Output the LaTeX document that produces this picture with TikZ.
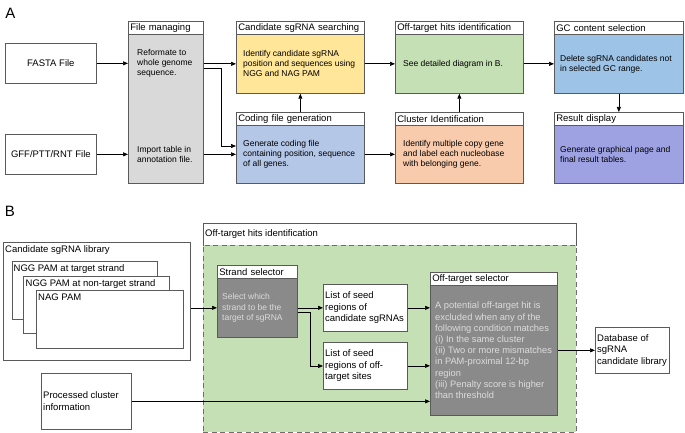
\documentclass[tikz,border=0pt]{standalone}
\usepackage{fontspec}
\setmainfont{Liberation Sans}
\usetikzlibrary{arrows.meta}
\definecolor{bc}{HTML}{5A5A5A}
\definecolor{dashc}{HTML}{6E6E6E}
\definecolor{cyel}{HTML}{FFE699}
\definecolor{cgreen}{HTML}{C5E0B4}
\definecolor{ccode}{HTML}{B4C7E7}
\definecolor{corange}{HTML}{F8CBAD}
\definecolor{cgc}{HTML}{9DC3E6}
\definecolor{cres}{HTML}{9EA2E2}
\definecolor{cfm}{HTML}{D9D9D9}
\definecolor{cdark}{HTML}{8A8A8A}
\definecolor{clight}{HTML}{DCDCDC}
\newcommand{\fTitle}{\fontsize{9.5}{11}\selectfont}
\newcommand{\fBody}{\fontsize{8.5}{10}\selectfont}
\newcommand{\fBB}{\fontsize{9.5}{11.5}\selectfont}
\newcommand{\fSel}{\fontsize{9.3}{11.2}\selectfont}
\newcommand{\fStr}{\fontsize{8.5}{10.5}\selectfont}
\newcommand{\fBig}{\fontsize{15}{15}\selectfont}
\begin{document}
\begin{tikzpicture}[x=1pt,y=-1pt,
  box/.style={draw=bc, line width=0.7pt, anchor=north west, inner sep=0pt},
  ttl/.style={box, fill=white, minimum height=13pt, inner xsep=2pt, inner ysep=0pt, align=left, font=\fTitle},
  arr/.style={line width=0.7pt, -{Triangle[length=5pt,width=4pt]}},
  ln/.style={line width=0.7pt},
  txt/.style={anchor=west, align=left, inner sep=0pt},
  dashbox/.style={draw=dashc, line width=0.7pt, dash pattern=on 5pt off 3.5pt, anchor=north west, inner sep=0pt}
]
\useasboundingbox (0,0) rectangle (685,433);

% ---------------- Panel A ----------------
\node[font=\fBig, inner sep=0pt] (labA) at (10.5,13.5) {A};

\node[box, fill=white, minimum width=91pt, minimum height=40pt, font=\fTitle] (fasta) at (5,43) {};
\node[font=\fTitle, inner sep=0pt] (fastax) at (fasta.center) {FASTA File};
\node[box, fill=white, minimum width=91pt, minimum height=40pt] (gff) at (5,134) {};
\node[font=\fTitle, inner sep=0pt] (gffx) at (gff.center) {GFF/PTT/RNT File};

% File managing
\node[ttl, text width=71pt] (fmt) at (128,21) {File managing};
\node[box, fill=cfm, minimum width=75pt, minimum height=149pt] (fmb) at (128,34) {};
\coordinate (fmy1) at (128,63);
\coordinate (fmy2) at (128,154);
\node[txt, font=\fBody] (fmx1) at ([xshift=9pt]fmy1) {Reformate to\\whole genome\\sequence.};
\node[txt, font=\fBody] (fmx2) at ([xshift=9pt]fmy2) {Import table in\\annotation file.};

% Candidate sgRNA searching
\node[ttl, text width=124pt] (candt) at (236,21) {Candidate sgRNA searching};
\node[box, fill=cyel, minimum width=128pt, minimum height=59pt] (candb) at (236,34) {};
\node[txt, font=\fBody] (candx) at ([xshift=7pt]candb.west) {Identify candidate sgRNA\\position and sequences using\\NGG and NAG PAM};

% Coding file generation
\node[ttl, text width=124pt] (codt) at (236,112) {Coding file generation};
\node[box, fill=ccode, minimum width=128pt, minimum height=58pt] (codb) at (236,125) {};
\node[txt, font=\fBody] (codx) at ([xshift=7pt]codb.west) {Generate coding file\\containing position, sequence\\of all genes.};

% Off-target hits identification
\node[ttl, text width=124pt] (offt) at (395,21) {Off-target hits identification};
\node[box, fill=cgreen, minimum width=128pt, minimum height=59pt] (offb) at (395,34) {};
\node[txt, font=\fBody] (offx) at ([xshift=8pt]offb.west) {See detailed diagram in B.};

% Cluster Identification
\node[ttl, text width=124pt] (clt) at (395,112) {Cluster Identification};
\node[box, fill=corange, minimum width=128pt, minimum height=58pt] (clb) at (395,125) {};
\node[txt, font=\fBody] (clx) at ([xshift=8pt]clb.west) {Identify multiple copy gene\\and label each nucleobase\\with belonging gene.};

% GC content selection
\node[ttl, text width=125pt] (gct) at (554,21) {GC content selection};
\node[box, fill=cgc, minimum width=129pt, minimum height=59pt] (gcb) at (554,34) {};
\node[txt, font=\fBody] (gcx) at ([xshift=6pt]gcb.west) {Delete sgRNA candidates not\\in selected GC range.};

% Result display
\node[ttl, text width=125pt] (rest) at (554,112) {Result display};
\node[box, fill=cres, minimum width=129pt, minimum height=58pt] (resb) at (554,125) {};
\node[txt, font=\fBody] (resx) at ([xshift=6pt]resb.west) {Generate graphical page and\\final result tables.};

% Panel A connectors
\draw[arr] (fasta.east) -- (fasta.east -| fmb.west);
\draw[arr] (gff.east) -- (gff.east -| fmb.west);
\draw[arr] (fmb.east |- candb.west) -- (candb.west);
\coordinate (j1) at (221,68);
\coordinate (j2) at (221,146);
\draw[arr] (fmb.east |- j1) -- (j1) -- (j2) -- (codb.west |- j2);
\draw[arr] (fmb.east |- codb.west) -- (codb.west);
\draw[arr] (codt.north) -- (candb.south);
\draw[arr] (candb.east) -- (offb.west);
\draw[arr] (codb.east) -- (clb.west);
\draw[arr] (clt.north) -- (offb.south);
\draw[arr] (offb.east) -- (gcb.west);
\draw[arr] (gcb.south) -- (rest.north);

% ---------------- Panel B ----------------
\node[font=\fBig, inner sep=0pt] (labB) at (10,211.5) {B};

% Off-target hits identification (outer)
\node[box, draw=none, fill=cgreen, minimum width=373pt, minimum height=187pt] (otb) at (203,245) {};
\node[box, draw=none, fill=white, minimum width=373pt, minimum height=22pt] (ott) at (203,223) {};
\draw[ln, bc] (ott.south west) -- (ott.north west) -- (ott.north east) -- (ott.south east);
\node[dashbox, minimum width=373pt, minimum height=187pt] (otd) at (203,245) {};
\node[txt, font=\fTitle] (ottx) at ([xshift=2pt]ott.west) {Off-target hits identification};

% Candidate sgRNA library
\node[box, fill=white, minimum width=187pt, minimum height=118pt] (lib) at (3,242) {};
\node[anchor=base west, inner sep=0pt, font=\fBB] (libx) at ([shift={(2pt,-10.5pt)}]lib.north west) {Candidate sgRNA library};
\node[box, fill=white, minimum width=145pt, minimum height=58pt] (c1) at (12,261) {};
\node[anchor=base west, inner sep=0pt, font=\fBB] (c1x) at ([shift={(1.5pt,-10.5pt)}]c1.north west) {NGG PAM at target strand};
\node[box, fill=white, minimum width=146pt, minimum height=57pt] (c2) at (23,276) {};
\node[anchor=base west, inner sep=0pt, font=\fBB] (c2x) at ([shift={(2.5pt,-10.5pt)}]c2.north west) {NGG PAM at non-target strand};
\node[box, fill=white, minimum width=147pt, minimum height=58pt] (c3) at (36,290) {};
\node[anchor=base west, inner sep=0pt, font=\fBB] (c3x) at ([shift={(2pt,-10.5pt)}]c3.north west) {NAG PAM};

% Processed cluster information
\node[box, fill=white, minimum width=90pt, minimum height=56pt] (proc) at (41,373) {};
\node[txt, font=\fBB] (procx) at ([xshift=2pt]proc.west) {Processed cluster\\information};

% Strand selector
\node[ttl, text width=76pt] (stt) at (217,265) {Strand selector};
\node[box, fill=cdark, minimum width=80pt, minimum height=59pt] (stb) at (217,278) {};
\node[txt, font=\fStr, text=clight] (stx) at ([xshift=5pt]stb.west) {Select which\\strand to be the\\target of sgRNA};

% Lists
\node[box, fill=white, minimum width=84pt, minimum height=47pt] (l1) at (323,284) {};
\node[txt, font=\fBB] (l1x) at ([xshift=2pt]l1.west) {List of seed\\regions of\\candidate sgRNAs};
\node[box, fill=white, minimum width=84pt, minimum height=47pt] (l2) at (323,342) {};
\node[txt, font=\fBB] (l2x) at ([xshift=2pt]l2.west) {List of seed\\regions of off-\\target sites};

% Off-target selector
\node[ttl, text width=123pt] (ost) at (430,272) {Off-target selector};
\node[box, fill=cdark, minimum width=127pt, minimum height=130pt] (osb) at (430,285) {};
\node[txt, font=\fSel, text=clight] (osx) at ([xshift=5pt]osb.west) {A potential off-target hit is\\excluded when any of the\\following condition matches\\(i) In the same cluster\\(ii) Two or more mismatches\\in PAM-proximal 12-bp\\region\\(iii) Penalty score is higher\\than threshold};

% Database
\node[box, fill=white, minimum width=74pt, minimum height=46pt] (db) at (595,327) {};
\node[txt, font=\fBB] (dbx) at ([xshift=2pt]db.west) {Database of\\sgRNA\\candidate library};

% Panel B connectors
\draw[arr] (lib.east |- stb.west) -- (stb.west);
\draw[arr] (stb.east |- l1.west) -- (l1.west);
\coordinate (b1) at (310,312);
\coordinate (b2) at (310,366);
\draw[arr] (stb.east |- b1) -- (b1) -- (b2) -- (l2.west |- b2);
\draw[arr] (l1.east) -- (l1.east -| osb.west);
\draw[arr] (l2.east) -- (l2.east -| osb.west);
\draw[arr] (proc.east) -- (proc.east -| osb.west);
\draw[arr] (osb.east |- db.west) -- (db.west);
\end{tikzpicture}
\end{document}
